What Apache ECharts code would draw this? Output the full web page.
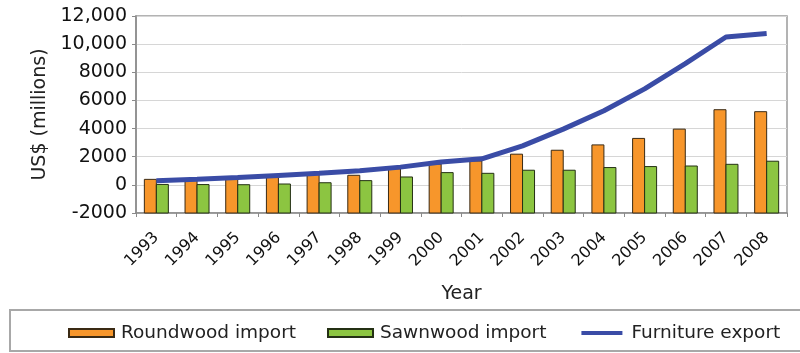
<!DOCTYPE html>
<html>
<head>
<meta charset="utf-8">
<script src="https://cdn.jsdelivr.net/npm/echarts@6/dist/echarts.min.js"></script>
<style>
html,body{margin:0;padding:0;background:#fff;}
#chart{width:800px;height:353px;}
</style>
</head>
<body>
<div id="chart"></div>
<script>
const years = ['1993','1994','1995','1996','1997','1998','1999','2000','2001','2002','2003','2004','2005','2006','2007','2008'];
const roundwoodImport = [390, 360, 390, 530, 750, 680, 1150, 1480, 1700, 2180, 2460, 2840, 3300, 3960, 5340, 5200];
const sawnwoodImport = [30, 20, 10, 60, 150, 300, 560, 870, 820, 1040, 1040, 1230, 1300, 1340, 1460, 1680];
const furnitureExport = [300, 400, 520, 670, 820, 1000, 1260, 1620, 1850, 2770, 3960, 5270, 6820, 8610, 10510, 10750];
const yMin = -2000, yMax = 12000, yInterval = 2000;
const yTickLabels = ['-2000','0','2000','4000','6000','8000','10,000','12,000'];

const FONT = 'DejaVu Sans';
const BAR_W = 12;

function barRenderer(offsetIndex) {
  return function (params, api) {
    const idx = api.value(0);
    const val = api.value(1);
    const top = api.coord([idx, val]);
    const base = api.coord([idx, yMin]);
    const x = top[0] + (offsetIndex === 0 ? -BAR_W : 0);
    return {
      type: 'rect',
      shape: { x: x, y: top[1], width: BAR_W, height: base[1] - top[1] },
      style: api.style()
    };
  };
}

const chart = echarts.init(document.getElementById('chart'), null, { renderer: 'canvas' });
chart.setOption({
  animation: false,
  backgroundColor: '#fff',
  textStyle: { fontFamily: FONT },
  grid: {
    left: 136, right: 13, top: 16, bottom: 140,
    outerBoundsMode: 'none',
    show: true, borderColor: '#9a9a9a', borderWidth: 1.5
  },
  graphic: [{
    type: 'rect',
    shape: { x: 10, y: 310, width: 800, height: 41 },
    style: { fill: 'none', stroke: '#a8a8a8', lineWidth: 2 },
    z: -1
  }],
  legend: {
    left: 68, top: 323, width: 760,
    padding: 0,
    orient: 'horizontal',
    selectedMode: false,
    itemWidth: 45, itemHeight: 8, itemGap: 31,
    textStyle: { fontFamily: FONT, fontSize: 18.5, color: '#222', lineHeight: 20, padding: [0, 0, 0, 2] },
    data: [
      { name: 'Roundwood import', icon: 'rect' },
      { name: 'Sawnwood import', icon: 'rect' },
      { name: 'Furniture export', icon: 'rect',
        itemStyle: { color: '#3a4ca6', borderColor: '#ffffff', borderWidth: 4 } }
    ]
  },
  xAxis: {
    type: 'category',
    data: years,
    boundaryGap: true,
    name: 'Year',
    nameLocation: 'middle',
    nameGap: 72,
    nameTextStyle: { fontFamily: FONT, fontSize: 19, color: '#222' },
    axisLine: { onZero: false, lineStyle: { color: '#8a8a8a', width: 1.5 } },
    axisTick: { show: true, length: 4, lineStyle: { color: '#8a8a8a' } },
    axisLabel: { rotate: 45, margin: 22, fontFamily: FONT, fontSize: 16, color: '#111', interval: 0 },
    splitLine: { show: false }
  },
  yAxis: {
    type: 'value',
    min: yMin, max: yMax, interval: yInterval,
    name: 'US$ (millions)',
    nameLocation: 'middle',
    nameRotate: 90,
    nameGap: 80,
    nameTextStyle: { fontFamily: FONT, fontSize: 19, color: '#222' },
    axisLine: { show: true, lineStyle: { color: '#8a8a8a', width: 1.5 } },
    axisTick: { show: true, length: 4, lineStyle: { color: '#8a8a8a' } },
    axisLabel: {
      margin: 9, fontFamily: FONT, fontSize: 19, color: '#111',
      formatter: function (v) { return yTickLabels[Math.round((v - yMin) / yInterval)]; }
    },
    splitLine: { show: true, lineStyle: { color: '#d6d6d6', width: 1 } }
  },
  series: [
    {
      name: 'Roundwood import',
      type: 'custom',
      renderItem: barRenderer(0),
      encode: { x: 0, y: 1 },
      itemStyle: { color: '#f7962b', borderColor: '#3a2a14', borderWidth: 1 },
      data: roundwoodImport.map(function (v, i) { return [i, v]; }),
      z: 2
    },
    {
      name: 'Sawnwood import',
      type: 'custom',
      renderItem: barRenderer(1),
      encode: { x: 0, y: 1 },
      itemStyle: { color: '#8cc541', borderColor: '#243014', borderWidth: 1 },
      data: sawnwoodImport.map(function (v, i) { return [i, v]; }),
      z: 2
    },
    {
      name: 'Furniture export',
      type: 'line',
      data: furnitureExport,
      symbol: 'none',
      smooth: false,
      lineStyle: { color: '#3a4ca6', width: 5 },
      itemStyle: { color: '#3a4ca6' },
      z: 5
    }
  ]
});
</script>
</body>
</html>
